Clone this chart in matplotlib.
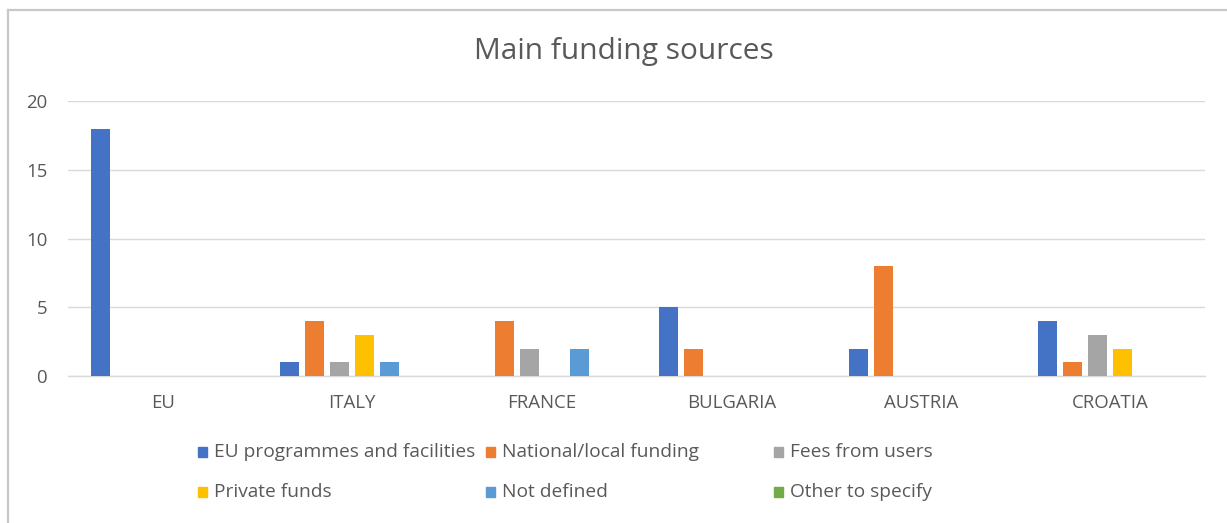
import numpy as np
import matplotlib
matplotlib.use('Agg')
import matplotlib.pyplot as plt
from matplotlib.patches import Rectangle
from matplotlib.lines import Line2D

plt.rcParams['font.family'] = ['Open Sans', 'DejaVu Sans']

# data
countries = ['EU', 'ITALY', 'FRANCE', 'BULGARIA', 'AUSTRIA', 'CROATIA']
series_names = ['EU programmes and facilities', 'National/local funding', 'Fees from users',
                'Private funds', 'Not defined', 'Other to specify']
eu_programmes = [18, 1, 0, 5, 2, 4]
national_local = [0, 4, 4, 2, 8, 1]
fees_users = [0, 1, 2, 0, 0, 3]
private_funds = [0, 3, 0, 0, 0, 2]
not_defined = [0, 1, 2, 0, 0, 0]
other_specify = [0, 0, 0, 0, 0, 0]
series_values = [eu_programmes, national_local, fees_users, private_funds, not_defined, other_specify]
colors = ['#4472C4', '#ED7D31', '#A5A5A5', '#FFC000', '#5B9BD5', '#70AD47']

txt = '#595959'
W, H = 1227, 523
fig = plt.figure(figsize=(W / 100, H / 100), dpi=100)

# outer chart border (only top and left visible in the crop)
fig.add_artist(Line2D([8 / W, 8 / W], [0, 1 - 10 / H], color='#C8C8C8', lw=1.6,
                      transform=fig.transFigure))
fig.add_artist(Line2D([8 / W, 1], [1 - 10 / H, 1 - 10 / H], color='#C8C8C8', lw=1.6,
                      transform=fig.transFigure))

ax = fig.add_axes([68 / W, 1 - 376 / H, (1205 - 68) / W, (376 - 101) / H])

x = np.arange(len(countries))
pitch = 25 / 190
bw = 19 / 190
for i, (vals, col) in enumerate(zip(series_values, colors)):
    ax.bar(x + (i - 2.5) * pitch, vals, width=bw, color=col, zorder=3)

ax.set_xlim(-0.5, len(countries) - 0.5)
ax.set_ylim(0, 20)
ax.set_yticks([0, 5, 10, 15, 20])
ax.set_xticks(x)
ax.set_xticklabels(countries)
ax.tick_params(axis='both', length=0, labelsize=13.4, colors=txt)
ax.tick_params(axis='y', pad=15)
ax.tick_params(axis='x', pad=13)
ax.yaxis.grid(True, color='#D9D9D9', lw=1.0, zorder=0)
for s in ['top', 'right', 'left']:
    ax.spines[s].set_visible(False)
ax.spines['bottom'].set_color('#D9D9D9')
ax.spines['bottom'].set_linewidth(1.0)

fig.text(624 / W, 1 - 51 / H, 'Main funding sources', ha='center', va='center',
         fontsize=21.5, color=txt)

# legend laid out in a fixed 3-column grid like the Excel chart
col_x = [198, 486, 774]
row_y = [452, 492]
for k, (name, col) in enumerate(zip(series_names, colors)):
    cx = col_x[k % 3]
    cy = row_y[k // 3]
    fig.add_artist(Rectangle((cx / W, 1 - (cy + 5) / H), 9 / W, 10 / H, color=col,
                             transform=fig.transFigure))
    fig.text((cx + 16) / W, 1 - cy / H, name, ha='left', va='center',
             fontsize=13.8, color=txt)

fig.savefig('out.png', dpi=100, facecolor='white')
